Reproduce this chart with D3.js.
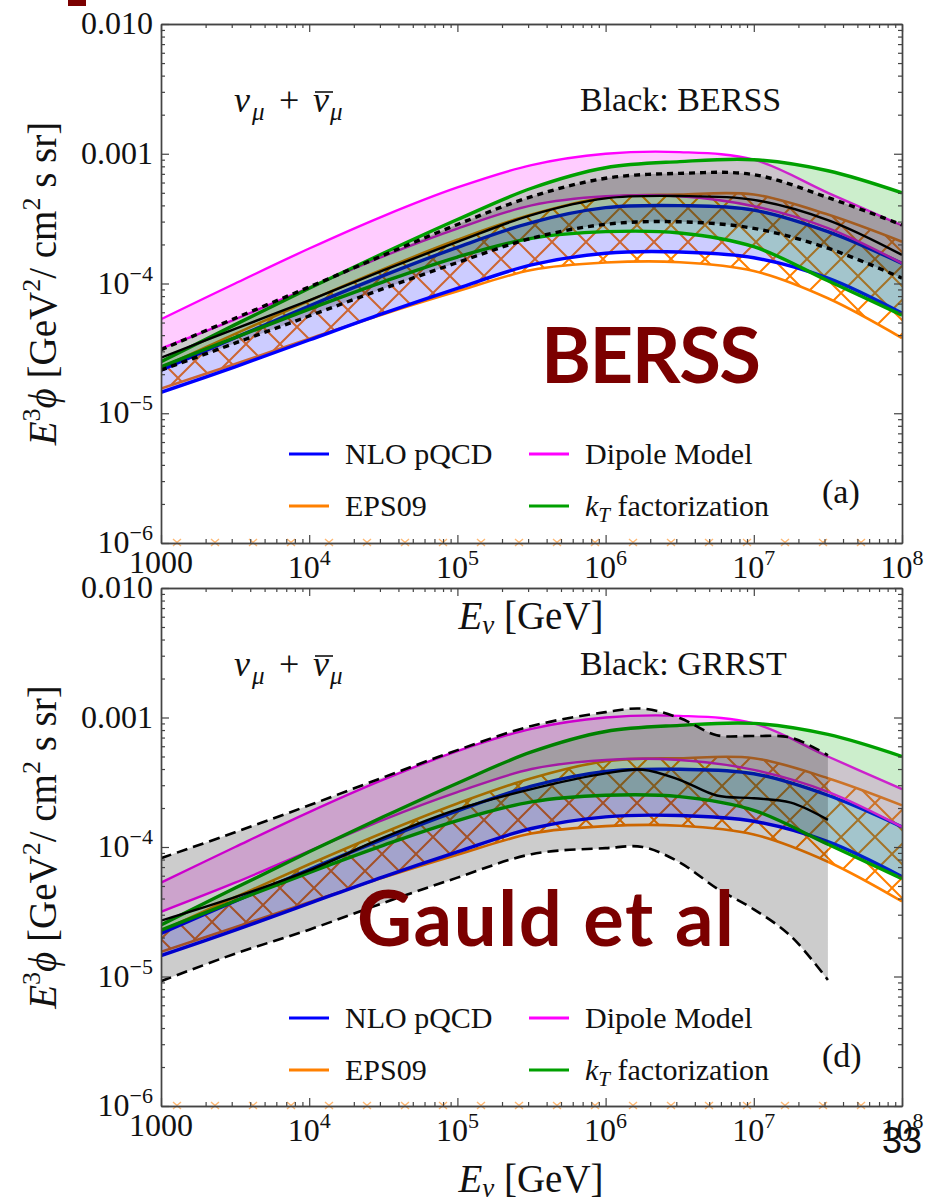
<!DOCTYPE html>
<html>
<head>
<meta charset="utf-8">
<script src="https://cdn.jsdelivr.net/npm/d3@7"></script>
<style>
  html, body { margin: 0; padding: 0; background: #fff; }
  svg { display: block; }
  .serif { font-family: "Liberation Serif", "Times New Roman", Times, serif; fill: #111; }
  .big { font-family: Lato, "Open Sans", sans-serif; font-weight: 700; fill: #7b0000; }
</style>
</head>
<body>
<svg id="chart" width="940" height="1202"></svg>
<script>
// ---------- data: E^3 phi [GeV^2 / cm^2 s sr] versus E_nu [GeV] ----------
const energies = [1000, 3162, 10000, 31623, 100000, 316228, 1000000, 3162278, 10000000, 31622777, 100000000];

const nloLower    = [1.45e-5, 2.28e-5, 3.67e-5, 5.89e-5, 9.18e-5, 1.39e-4, 1.71e-4, 1.75e-4, 1.58e-4, 1.10e-4, 5.9e-5];
const nloUpper    = [2.15e-5, 3.82e-5, 6.71e-5, 1.15e-4, 1.9e-4, 2.95e-4, 3.84e-4, 3.98e-4, 3.68e-4, 2.51e-4, 1.43e-4];
const eps09Lower  = [1.55e-5, 2.4e-5, 3.75e-5, 5.8e-5, 8.7e-5, 1.27e-4, 1.45e-4, 1.46e-4, 1.25e-4, 7.7e-5, 3.8e-5];
const eps09Upper  = [2.25e-5, 4.09e-5, 7.36e-5, 1.29e-4, 2.17e-4, 3.4e-4, 4.6e-4, 4.85e-4, 4.85e-4, 3.4e-4, 2.1e-4];
const dipoleLower = [3.16e-5, 5.3e-5, 9.3e-5, 1.62e-4, 2.65e-4, 4.0e-4, 4.7e-4, 4.7e-4, 3.94e-4, 2.67e-4, 1.43e-4];
const dipoleUpper = [5.3e-5, 1.0e-4, 1.86e-4, 3.31e-4, 5.5e-4, 8.18e-4, 1.0e-3, 1.03e-3, 9.0e-4, 5.0e-4, 2.8e-4];
const ktLower     = [2.28e-5, 3.83e-5, 6.35e-5, 1.03e-4, 1.6e-4, 2.23e-4, 2.51e-4, 2.45e-4, 1.92e-4, 1.05e-4, 5.7e-5];
const ktUpper     = [2.5e-5, 4.82e-5, 9.18e-5, 1.71e-4, 3.11e-4, 5.42e-4, 7.8e-4, 8.7e-4, 9.0e-4, 7.4e-4, 5.0e-4];

// BERSS (panel a)
const berssLower   = [2.15e-5, 3.47e-5, 5.62e-5, 9.12e-5, 1.45e-4, 2.23e-4, 2.86e-4, 2.99e-4, 2.66e-4, 1.87e-4, 1.1e-4];
const berssCentral = [2.68e-5, 4.47e-5, 7.41e-5, 1.26e-4, 2.09e-4, 3.37e-4, 4.53e-4, 4.72e-4, 4.41e-4, 3.08e-4, 1.66e-4];
const berssUpper   = [3.09e-5, 5.4e-5, 9.4e-5, 1.65e-4, 2.85e-4, 4.67e-4, 6.47e-4, 7.06e-4, 6.9e-4, 4.6e-4, 2.83e-4];

// GRRST (panel d), available up to 10^7.5 GeV
const grrstEnergies = [1000, 3162, 10000, 31623, 100000, 316228, 1000000, 1778279, 3162278, 5623413, 10000000, 17782794, 31622777];
const grrstLower    = [9.2e-6, 1.5e-5, 2.3e-5, 3.7e-5, 5.8e-5, 8.8e-5, 9.8e-5, 1.0e-4, 7.6e-5, 4.8e-5, 3.3e-5, 2.05e-5, 9.4e-6];
const grrstCentral  = [2.7e-5, 4.1e-5, 6.6e-5, 1.18e-4, 1.95e-4, 2.8e-4, 3.7e-4, 3.95e-4, 3.3e-4, 2.5e-4, 2.38e-4, 2.2e-4, 1.62e-4];
const grrstUpper    = [8.2e-5, 1.3e-4, 2.1e-4, 3.45e-4, 5.6e-4, 8.6e-4, 1.1e-3, 1.17e-3, 9.9e-4, 7.3e-4, 7.2e-4, 7.0e-4, 5.1e-4];

// ---------- ticks & labels ----------
const xMajor = [1e3, 1e4, 1e5, 1e6, 1e7, 1e8];
const xTickLabels = [["1000", ""], ["10", "4"], ["10", "5"], ["10", "6"], ["10", "7"], ["10", "8"]];
const yMajor = [1e-2, 1e-3, 1e-4, 1e-5, 1e-6];
const yTickLabels = [["0.010", ""], ["0.001", ""], ["10", "\u22124"], ["10", "\u22125"], ["10", "\u22126"]];

const legendNames = ["NLO pQCD", "EPS09", "Dipole Model", "kT factorization"];
const panelTags = ["(a)", "(d)"];
const blackNames = ["Black: BERSS", "Black: GRRST"];
const bigLabels = ["BERSS", "Gauld et al"];

// ---------- styling ----------
const C = {
  blue: "#0000ff", blueFill: "rgba(0,0,255,0.2)",
  orange: "#ff8000",
  magenta: "#ff00ff", magentaFill: "rgba(255,0,255,0.2)",
  green: "#00a000", greenFill: "rgba(0,170,0,0.2)",
  greyFill: "rgba(0,0,0,0.2)",
  axis: "#444"
};
const legendColors = [C.blue, C.orange, C.magenta, C.green];

const plotLeft = 161, plotRight = 902;
const panels = [{ top: 24, bottom: 543 }, { top: 588, bottom: 1106 }];

const svg = d3.select("#chart");
const defs = svg.append("defs");

// cross hatching used for the EPS09 band
const H = 34;
const hatch = defs.append("pattern").attr("id", "hatch")
  .attr("patternUnits", "userSpaceOnUse").attr("width", H).attr("height", H)
  .attr("x", 8).attr("y", 4);
hatch.append("path")
  .attr("d", `M-6,6L6,-6M0,${H}L${H},0M${H - 6},${H + 6}L${H + 6},${H - 6}` +
             `M-6,${H - 6}L6,${H + 6}M0,0L${H},${H}M${H - 6},-6L${H + 6},6`)
  .attr("stroke", C.orange).attr("stroke-width", 2).attr("fill", "none");

const curve = d3.curveCatmullRom.alpha(0.5);

function rows(es, cols) {
  return es.map((e, k) => {
    const r = { e };
    for (const key in cols) r[key] = cols[key][k];
    return r;
  });
}

const shared = rows(energies, {
  nloLo: nloLower, nloHi: nloUpper, epsLo: eps09Lower, epsHi: eps09Upper,
  dipLo: dipoleLower, dipHi: dipoleUpper, ktLo: ktLower, ktHi: ktUpper,
  bLo: berssLower, bMid: berssCentral, bHi: berssUpper
});
const grrst = rows(grrstEnergies, { lo: grrstLower, mid: grrstCentral, hi: grrstUpper });

panels.forEach((p, i) => {
  const x = d3.scaleLog().domain([1e3, 1e8]).range([plotLeft, plotRight]);
  const y = d3.scaleLog().domain([1e-6, 1e-2]).range([p.bottom, p.top]);
  const g = svg.append("g");

  const clipId = "clip" + i;
  defs.append("clipPath").attr("id", clipId).append("rect")
    .attr("x", plotLeft).attr("y", p.top)
    .attr("width", plotRight - plotLeft).attr("height", p.bottom - p.top);

  const plot = g.append("g").attr("clip-path", `url(#${clipId})`);

  const area = (lo, hi) => d3.area().x(d => x(d.e)).y0(d => y(d[lo])).y1(d => y(d[hi])).curve(curve);
  const line = key => d3.line().x(d => x(d.e)).y(d => y(d[key])).curve(curve);
  const stroke = (data, key, color, w, dash) => {
    const s = plot.append("path").datum(data).attr("d", line(key))
      .attr("fill", "none").attr("stroke", color).attr("stroke-width", w)
      .attr("stroke-linejoin", "round");
    if (dash) s.attr("stroke-dasharray", dash);
  };

  // EPS09: hatched band
  plot.append("path").datum(shared).attr("d", area("epsLo", "epsHi")).attr("fill", "url(#hatch)");
  stroke(shared, "epsLo", C.orange, 2.6);
  stroke(shared, "epsHi", C.orange, 2.6);

  // NLO pQCD
  plot.append("path").datum(shared).attr("d", area("nloLo", "nloHi")).attr("fill", C.blueFill);
  stroke(shared, "nloLo", C.blue, 3.4);
  stroke(shared, "nloHi", C.blue, 3.4);

  // Dipole model
  plot.append("path").datum(shared).attr("d", area("dipLo", "dipHi")).attr("fill", C.magentaFill);
  stroke(shared, "dipLo", C.magenta, 2.4);
  stroke(shared, "dipHi", C.magenta, 2.4);

  // kT factorization
  plot.append("path").datum(shared).attr("d", area("ktLo", "ktHi")).attr("fill", C.greenFill);
  stroke(shared, "ktLo", C.green, 3.4);
  stroke(shared, "ktHi", C.green, 3.4);

  // black reference band
  if (i === 0) {
    plot.append("path").datum(shared).attr("d", area("bLo", "bHi")).attr("fill", C.greyFill);
    stroke(shared, "bMid", "#000", 2.4);
    stroke(shared, "bLo", "#000", 3.4, "6,5");
    stroke(shared, "bHi", "#000", 3.4, "6,5");
  } else {
    plot.append("path").datum(grrst).attr("d", area("lo", "hi")).attr("fill", C.greyFill);
    stroke(grrst, "mid", "#000", 2.4);
    stroke(grrst, "lo", "#000", 2.6, "11,6");
    stroke(grrst, "hi", "#000", 2.6, "11,6");
  }

  // faint hatch traces sitting on the bottom frame edge
  const marks = d3.range(plotLeft + 16, plotRight - 4, 38);
  g.append("path")
    .attr("d", marks.map(mx => `M${mx - 4},${p.bottom - 4}L${mx + 4},${p.bottom + 3}M${mx + 4},${p.bottom - 4}L${mx - 4},${p.bottom + 3}`).join(""))
    .attr("stroke", C.orange).attr("stroke-width", 1.4).attr("opacity", 0.55).attr("fill", "none");

  // ---------- frame and ticks ----------
  const xMinor = x.ticks().filter(v => !xMajor.some(m => Math.abs(m - v) / m < 1e-6));
  const yMinor = y.ticks().filter(v => !yMajor.some(m => Math.abs(m - v) / m < 1e-6));
  const axes = [
    [d3.axisBottom(x), `translate(0,${p.bottom})`, xMajor, xMinor],
    [d3.axisTop(x), `translate(0,${p.top})`, xMajor, xMinor],
    [d3.axisLeft(y), `translate(${plotLeft},0)`, yMajor, yMinor],
    [d3.axisRight(y), `translate(${plotRight},0)`, yMajor, yMinor]
  ];
  axes.forEach(([ax, tr, maj, minr]) => {
    const a1 = g.append("g").attr("transform", tr)
      .call(ax.tickValues(maj).tickSizeInner(-8).tickSizeOuter(0).tickFormat(""));
    const a2 = g.append("g").attr("transform", tr)
      .call(ax.tickValues(minr).tickSizeInner(-4).tickSizeOuter(0).tickFormat(""));
    [a1, a2].forEach(a => {
      a.select(".domain").attr("stroke", C.axis).attr("stroke-width", 1.4);
      a.selectAll(".tick line").attr("stroke", C.axis).attr("stroke-width", 1.2);
      a.selectAll("text").remove();
    });
  });

  // y tick labels
  yMajor.forEach((v, k) => {
    const [base, sup] = yTickLabels[k];
    const t = g.append("text").attr("class", "serif").attr("x", 153).attr("y", y(v) + 10)
      .attr("text-anchor", "end").attr("font-size", 32);
    t.append("tspan").text(base);
    if (sup) t.append("tspan").attr("font-size", 22).attr("dy", -13).text(sup);
  });

  // x tick labels
  xMajor.forEach((v, k) => {
    const [base, sup] = xTickLabels[k];
    const t = g.append("text").attr("class", "serif").attr("x", x(v))
      .attr("y", p.bottom + (sup ? 35 : 30))
      .attr("text-anchor", "middle").attr("font-size", 32);
    t.append("tspan").text(base);
    if (sup) t.append("tspan").attr("font-size", 22).attr("dy", -13).text(sup);
  });

  // axis titles
  const xt = g.append("text").attr("class", "serif").attr("x", 531).attr("y", p.bottom + 86)
    .attr("text-anchor", "middle").attr("font-size", 39);
  xt.append("tspan").attr("font-style", "italic").text("E");
  xt.append("tspan").attr("font-style", "italic").attr("font-size", 27).attr("dy", 5).text("\u03bd");
  xt.append("tspan").attr("dy", -5).text(" [GeV]");

  const yc = (p.top + p.bottom) / 2;
  const yt = g.append("text").attr("class", "serif")
    .attr("transform", `translate(56,${yc}) rotate(-90)`)
    .attr("text-anchor", "middle").attr("font-size", 39);
  yt.append("tspan").attr("font-style", "italic").text("E");
  yt.append("tspan").attr("font-size", 26).attr("dy", -16).text("3");
  yt.append("tspan").attr("font-style", "italic").attr("dy", 16).text("\u03d5");
  yt.append("tspan").text(" [GeV");
  yt.append("tspan").attr("font-size", 26).attr("dy", -16).text("2");
  yt.append("tspan").attr("dy", 16).text("/ cm");
  yt.append("tspan").attr("font-size", 26).attr("dy", -16).text("2");
  yt.append("tspan").attr("dy", 16).text(" s sr]");

  // channel label: nu_mu + nubar_mu
  const nb = p.top + 88;
  const sym = (tx, tyy, s, size, italic) => g.append("text").attr("class", "serif")
    .attr("x", tx).attr("y", tyy).attr("font-size", size)
    .attr("font-style", italic ? "italic" : "normal").text(s);
  sym(234, nb, "\u03bd", 36, true);
  sym(252, nb + 8, "\u03bc", 25, true);
  sym(279, nb, "+", 36, false);
  sym(313, nb, "\u03bd", 36, true);
  sym(330, nb + 8, "\u03bc", 25, true);
  g.append("line").attr("x1", 315).attr("x2", 333).attr("y1", nb - 20).attr("y2", nb - 20)
    .attr("stroke", "#111").attr("stroke-width", 1.6);

  g.append("text").attr("class", "serif").attr("x", 580).attr("y", p.top + 87)
    .attr("font-size", 34).text(blackNames[i]);

  // legend
  const legendPos = [[289, p.top + 430], [289, p.top + 482], [529, p.top + 430], [529, p.top + 482]];
  legendNames.forEach((name, k) => {
    const [lx, ly] = legendPos[k];
    g.append("line").attr("x1", lx).attr("x2", lx + 40).attr("y1", ly).attr("y2", ly)
      .attr("stroke", legendColors[k]).attr("stroke-width", 3.2);
    const t = g.append("text").attr("class", "serif").attr("x", lx + 56).attr("y", ly + 10)
      .attr("font-size", 30);
    if (name.startsWith("kT")) {
      t.append("tspan").attr("font-style", "italic").text("k");
      t.append("tspan").attr("font-style", "italic").attr("font-size", 21).attr("dy", 6).text("T");
      t.append("tspan").attr("dy", -6).text(name.slice(2));
    } else {
      t.text(name);
    }
  });

  g.append("text").attr("class", "serif").attr("x", 822).attr("y", p.top + 479)
    .attr("font-size", 34).text(panelTags[i]);

  // big slide labels
  if (i === 0) {
    g.append("text").attr("class", "big").attr("x", 541).attr("y", 383)
      .attr("font-size", 76).attr("textLength", 220).attr("lengthAdjust", "spacing").text(bigLabels[0]);
  } else {
    g.append("text").attr("class", "big").attr("x", 357).attr("y", 946)
      .attr("font-size", 76).attr("textLength", 377).attr("lengthAdjust", "spacing").text(bigLabels[1]);
  }
});

// slide decorations
svg.append("rect").attr("x", 68).attr("y", 0).attr("width", 18).attr("height", 6).attr("fill", "#7b0000");
svg.append("text").attr("x", 882).attr("y", 1153)
  .attr("font-family", "'Liberation Sans', Arial, sans-serif").attr("font-size", 36)
  .attr("fill", "#111").text("33");
</script>
</body>
</html>
